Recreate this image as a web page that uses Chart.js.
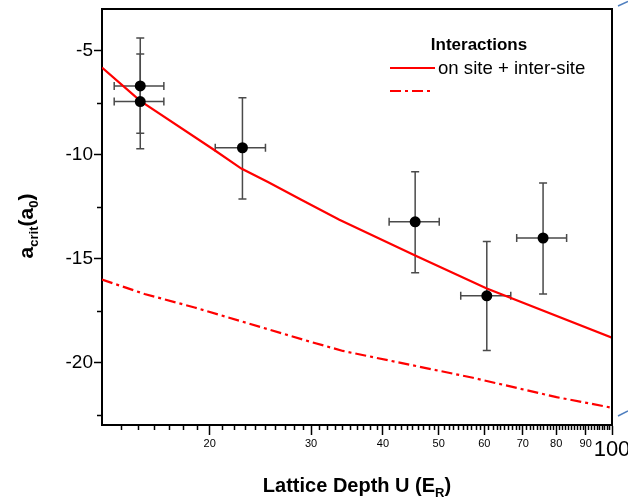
<!DOCTYPE html>
<html>
<head>
<meta charset="utf-8">
<script src="https://cdn.jsdelivr.net/npm/chart.js@4.4.1/dist/chart.umd.min.js"></script>
<style>
  html, body { margin: 0; padding: 0; background: #fff; }
  #wrap { width: 628px; height: 502px; }
</style>
</head>
<body>
<div id="wrap"><canvas id="chart" width="628" height="502"></canvas></div>
<script>
// Measured critical scattering length vs. lattice depth (with error ranges)
const depth     = [15.15, 15.15, 22.8, 45.5, 60.6, 75.9];
const depthLow  = [13.65, 13.65, 20.45, 41.0, 54.6, 68.3];
const depthHigh = [16.65, 16.65, 25.0, 50.1, 66.7, 83.4];
const aCrit     = [-6.70, -7.45, -9.67, -13.23, -16.79, -14.01];
const aCritLow  = [-8.97, -9.72, -12.14, -15.68, -19.42, -16.70];
const aCritHigh = [-4.40, -5.16, -7.27, -10.83, -14.18, -11.36];

// Theory curve: on site + inter-site interactions
const curveOnInterU = [13, 15.15, 20.4, 22.7, 25.25, 28.85, 33.6, 45.6, 60.6, 100];
const curveOnInterA = [-5.82, -7.42, -9.79, -10.67, -11.32, -12.17, -13.13, -14.86, -16.44, -18.80];

// Theory curve: on site only (dash-dot)
const curveOnSiteU = [13, 15.41, 18.83, 29.24, 34.08, 57.34, 80.1, 100];
const curveOnSiteA = [-16.01, -16.70, -17.35, -18.92, -19.44, -20.73, -21.66, -22.17];

// Axis ticks
const xMajorTicks = [20, 30, 40, 50, 60, 70, 80, 90, 100];
const xMinorTicks = [];
for (let v = 14; v < 100; v++) if (!xMajorTicks.includes(v)) xMinorTicks.push(v);
const yMajorTicks = [-20, -15, -10, -5];
const yMinorTicks = [-22.5, -17.5, -12.5, -7.5];

const legendTitle = 'Interactions';
const legendLabels = ['on site + inter-site', ''];

const FONT = '"Liberation Sans", Arial, Helvetica, sans-serif';
Chart.defaults.font.family = FONT;
Chart.defaults.color = '#000';

const toXY = (xs, ys) => xs.map((x, i) => ({ x, y: ys[i] }));

// Error bars, frame, minor ticks, titles and legend
const decorations = {
  id: 'decorations',
  beforeDatasetsDraw(chart) {
    const { ctx } = chart;
    const xs = chart.scales.x, ys = chart.scales.y;
    ctx.save();
    ctx.strokeStyle = '#4a4a4a';
    ctx.lineWidth = 1.5;
    const cap = 4;
    depth.forEach((d, i) => {
      const px = xs.getPixelForValue(d), py = ys.getPixelForValue(aCrit[i]);
      const x1 = xs.getPixelForValue(depthLow[i]), x2 = xs.getPixelForValue(depthHigh[i]);
      const y1 = ys.getPixelForValue(aCritLow[i]), y2 = ys.getPixelForValue(aCritHigh[i]);
      ctx.beginPath();
      ctx.moveTo(px, y1); ctx.lineTo(px, y2);
      ctx.moveTo(px - cap, y1); ctx.lineTo(px + cap, y1);
      ctx.moveTo(px - cap, y2); ctx.lineTo(px + cap, y2);
      ctx.moveTo(x1, py); ctx.lineTo(x2, py);
      ctx.moveTo(x1, py - cap); ctx.lineTo(x1, py + cap);
      ctx.moveTo(x2, py - cap); ctx.lineTo(x2, py + cap);
      ctx.stroke();
    });
    ctx.restore();
  },
  afterDraw(chart) {
    const { ctx, chartArea: a } = chart;
    const xs = chart.scales.x, ys = chart.scales.y;
    ctx.save();

    // top and right frame lines
    ctx.strokeStyle = '#000';
    ctx.lineWidth = 2;
    ctx.beginPath();
    ctx.moveTo(a.left, a.top); ctx.lineTo(a.right, a.top); ctx.lineTo(a.right, a.bottom);
    ctx.stroke();

    // minor ticks
    ctx.lineWidth = 1.5;
    ctx.beginPath();
    xMinorTicks.forEach(v => {
      const p = Math.round(xs.getPixelForValue(v)) + 0.5;
      ctx.moveTo(p, a.bottom); ctx.lineTo(p, a.bottom + 5);
    });
    yMinorTicks.forEach(v => {
      const p = Math.round(ys.getPixelForValue(v)) + 0.5;
      ctx.moveTo(a.left, p); ctx.lineTo(a.left - 5, p);
    });
    ctx.stroke();

    // helper for text with subscripts
    const runs = (parts) => parts.map(p => {
      ctx.font = `${p.bold ? 'bold ' : ''}${p.size}px ${FONT}`;
      return { ...p, w: ctx.measureText(p.t).width };
    });
    const drawRuns = (parts, x0, y0) => {
      let x = x0;
      parts.forEach(p => {
        ctx.font = `${p.bold ? 'bold ' : ''}${p.size}px ${FONT}`;
        ctx.fillText(p.t, x, y0 + (p.dy || 0));
        x += p.w;
      });
    };
    ctx.fillStyle = '#000';
    ctx.textBaseline = 'alphabetic';
    ctx.textAlign = 'left';

    // x axis title
    const xt = runs([
      { t: 'Lattice Depth U (E', size: 20, bold: true },
      { t: 'R', size: 13, bold: true, dy: 5 },
      { t: ')', size: 20, bold: true }
    ]);
    const xw = xt.reduce((s, p) => s + p.w, 0);
    drawRuns(xt, 357 - xw / 2, 492);

    // y axis title (rotated)
    const yt = runs([
      { t: 'a', size: 21, bold: true },
      { t: 'crit', size: 13, bold: true, dy: 5 },
      { t: '(a', size: 21, bold: true },
      { t: '0', size: 13, bold: true, dy: 5 },
      { t: ')', size: 21, bold: true }
    ]);
    const yw = yt.reduce((s, p) => s + p.w, 0);
    ctx.save();
    ctx.translate(33, 226);
    ctx.rotate(-Math.PI / 2);
    drawRuns(yt, -yw / 2, 0);
    ctx.restore();

    // legend
    const dsSolid = chart.data.datasets[1], dsDash = chart.data.datasets[2];
    ctx.font = `bold 17px ${FONT}`;
    ctx.textAlign = 'center';
    ctx.fillText(legendTitle, 479, 50);
    ctx.textAlign = 'left';
    ctx.font = `18.6px ${FONT}`;
    ctx.fillText(legendLabels[0], 438, 74);
    ctx.fillText(legendLabels[1], 438, 97);
    ctx.strokeStyle = dsSolid.borderColor;
    ctx.lineWidth = dsSolid.borderWidth;
    ctx.beginPath(); ctx.moveTo(390, 68); ctx.lineTo(435, 68); ctx.stroke();
    ctx.strokeStyle = dsDash.borderColor;
    ctx.lineWidth = dsDash.borderWidth;
    ctx.setLineDash(dsDash.borderDash);
    ctx.beginPath(); ctx.moveTo(390, 91); ctx.lineTo(432, 91); ctx.stroke();
    ctx.setLineDash([]);

    // small corner strokes at the right edge
    ctx.strokeStyle = '#4f7fbf';
    ctx.lineWidth = 1.5;
    ctx.beginPath();
    ctx.moveTo(618, 6); ctx.lineTo(628, 1.5);
    ctx.moveTo(618, 416); ctx.lineTo(628, 411);
    ctx.stroke();

    ctx.restore();
  }
};

new Chart(document.getElementById('chart'), {
  type: 'scatter',
  data: {
    datasets: [
      {
        label: 'data',
        data: toXY(depth, aCrit),
        pointRadius: 5.5,
        pointHoverRadius: 5.5,
        pointBackgroundColor: '#000',
        pointBorderColor: '#000',
        pointBorderWidth: 0,
        order: 0
      },
      {
        label: legendLabels[0],
        data: toXY(curveOnInterU, curveOnInterA),
        showLine: true,
        pointRadius: 0,
        borderColor: '#ff0000',
        borderWidth: 2.2,
        tension: 0,
        order: 1
      },
      {
        label: 'on site',
        data: toXY(curveOnSiteU, curveOnSiteA),
        showLine: true,
        pointRadius: 0,
        borderColor: '#ff0000',
        borderWidth: 2.2,
        borderDash: [11, 4, 3, 4],
        tension: 0,
        order: 2
      }
    ]
  },
  options: {
    responsive: false,
    animation: false,
    devicePixelRatio: 1,
    layout: { padding: { left: 0, top: 9, right: 16, bottom: 0 } },
    plugins: { legend: { display: false }, tooltip: { enabled: false } },
    scales: {
      x: {
        type: 'logarithmic',
        min: 13,
        max: 100,
        border: { display: true, color: '#000', width: 2 },
        grid: {
          drawOnChartArea: false,
          drawTicks: true,
          tickLength: 10,
          tickWidth: 1.5,
          tickColor: '#000'
        },
        afterBuildTicks: (s) => { s.ticks = xMajorTicks.map(v => ({ value: v, major: true })); },
        ticks: {
          autoSkip: false,
          maxRotation: 0,
          minRotation: 0,
          padding: 2,
          color: '#000',
          font: (c) => (c.tick && c.tick.value === 100 ? { size: 22 } : { size: 11 }),
          callback: (v) => String(v)
        },
        afterFit: (s) => { s.height = 77; s.paddingLeft = 0; s.paddingRight = 0; }
      },
      y: {
        type: 'linear',
        min: -23,
        max: -3,
        border: { display: true, color: '#000', width: 2 },
        grid: {
          drawOnChartArea: false,
          drawTicks: true,
          tickLength: 8,
          tickWidth: 1.5,
          tickColor: '#000'
        },
        afterBuildTicks: (s) => { s.ticks = yMajorTicks.map(v => ({ value: v })); },
        ticks: {
          padding: 1,
          color: '#000',
          font: { size: 19 },
          callback: (v) => String(v)
        },
        afterFit: (s) => { s.width = 102; s.paddingTop = 0; s.paddingBottom = 0; }
      }
    }
  },
  plugins: [decorations]
});
</script>
</body>
</html>
